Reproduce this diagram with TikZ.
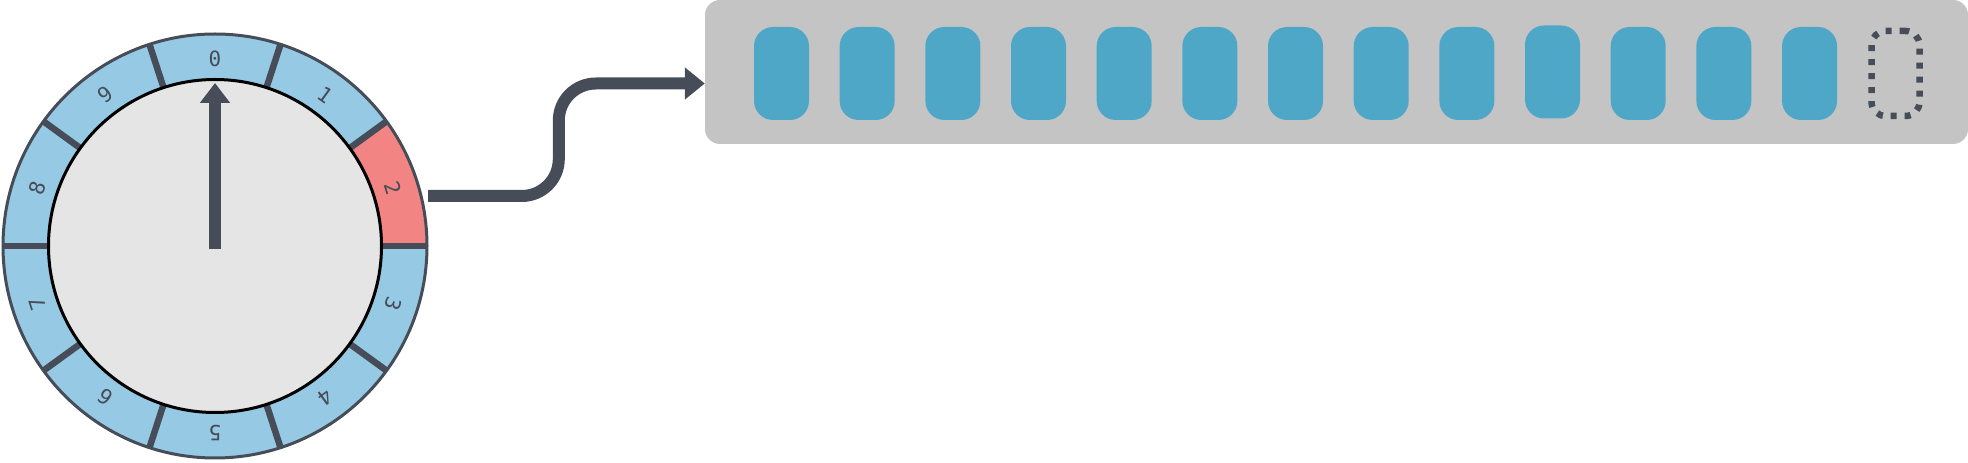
\documentclass[tikz,border=0pt]{standalone}
\usepackage{fontspec}
\usepackage{xcolor}
\newfontfamily\digitfont{DejaVu Sans Mono}
\usetikzlibrary{arrows.meta, calc, positioning}

\definecolor{ringblue}{HTML}{96C9E3}
\definecolor{ringred}{HTML}{F28583}
\definecolor{facegray}{HTML}{E5E5E5}
\definecolor{dialgray}{HTML}{464D58}
\definecolor{panelgray}{HTML}{C4C4C4}
\definecolor{slotblue}{HTML}{4FA7C7}

\begin{document}
\begin{tikzpicture}[x=1pt, y=1pt,
    divider/.style={draw=dialgray, line width=6.5pt},
    digit/.style={text=dialgray, inner sep=0pt, font=\digitfont\fontsize{21}{21}\selectfont},
    needle/.style={draw=dialgray, line width=12pt, -{Triangle[width=29pt, length=20pt]}},
    wire/.style={draw=dialgray, line width=12pt, rounded corners=37pt, -{Triangle[width=31pt, length=20pt]}},
    panel/.style={fill=panelgray, rounded corners=15pt, inner sep=0pt},
    slot/.style={fill=slotblue, rounded corners=19pt, inner sep=0pt, minimum width=55pt, minimum height=93pt}]
    \useasboundingbox (0,0) rectangle (1968,463);

    % dial
    \coordinate (c) at (215,217);
    \fill[ringblue] (c) circle (212);
    \fill[ringred] ($(c)+(0:212)$) arc (0:36:212) -- ($(c)+(36:166)$) arc (36:0:166) -- cycle;
    \foreach \a in {0,36,...,324}
        \draw[divider] ($(c)+(\a:165)$) -- ($(c)+(\a:212)$);
    \node[circle, draw=dialgray, line width=3pt, minimum size=424pt, inner sep=0pt] (dial) at (c) {};
    \node[circle, fill=facegray, draw=black, line width=3pt, minimum size=333pt, inner sep=0pt] (face) at (c) {};
    \foreach \d in {0,...,9}
        \node[digit, rotate=-36*\d] (d\d) at ($(c)+({90-36*\d}:187)$) {\d};
    \draw[needle] ($(c)+(0,-3)$) -- ($(c)+(0,163)$);

    % buffer
    \node[panel, minimum width=1263pt, minimum height=144pt] (buffer) at (1336.5,391) {};
    \foreach \i in {0,...,8,10,11,12}
        \node[slot] (s\i) at ({781.5+85.67*\i},389.5) {};
    \node[slot] (s9) at (1552.5,391) {};
    \node[slot, fill=none, draw=dialgray, line width=6.5pt, dash pattern=on 6pt off 8pt,
        rounded corners=14pt, minimum width=48pt, minimum height=85pt] (s13) at (1895.5,389.5) {};

    % connector
    \coordinate (feed) at (428,267);
    \draw[wire] (feed) -| ($(buffer.west)+(-146,-11.5)$) -- ($(buffer.west)+(0,-11.5)$);
\end{tikzpicture}
\end{document}
